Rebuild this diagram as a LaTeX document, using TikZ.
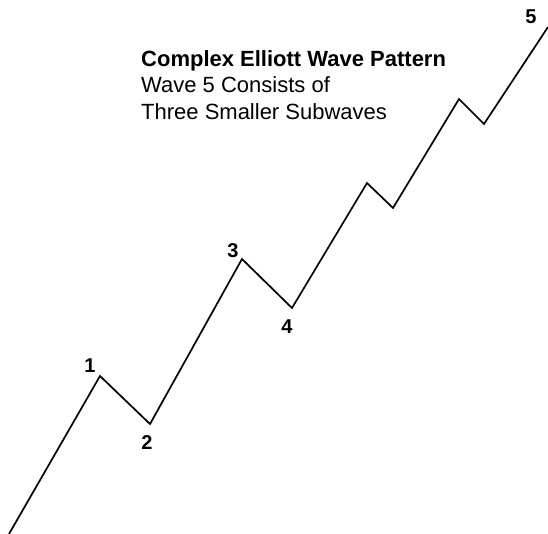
\documentclass[tikz,border=0pt]{standalone}
\usepackage{fontspec}
\setmainfont{Liberation Sans}
\begin{document}
\begin{tikzpicture}[x=1pt,y=-1pt,
  wave/.style={line width=1.7pt,line join=miter,black},
  lbl/.style={font=\fontsize{20}{22}\selectfont\bfseries,inner sep=0pt},
  txt/.style={font=\fontsize{22}{26.5}\selectfont,inner sep=0pt,align=left,anchor=base west}]
\useasboundingbox (0,0) rectangle (548,534);
\coordinate (s) at (9,534);
\coordinate (w1) at (100,376);
\coordinate (w2) at (150,424);
\coordinate (w3) at (242,259);
\coordinate (w4) at (292,308);
\coordinate (a) at (367,183);
\coordinate (b) at (393,208);
\coordinate (c) at (459,99);
\coordinate (d) at (484,124);
\coordinate (w5) at (548,27);
\draw[wave] (s) -- (w1) -- (w2) -- (w3) -- (w4) -- (a) -- (b) -- (c) -- (d) -- (w5);
\node[lbl] (l1) at (90,366) {1};
\node[lbl] (l2) at (147,443) {2};
\node[lbl] (l3) at (233,251) {3};
\node[lbl] (l4) at (287,327) {4};
\node[lbl] (l5) at (531,17) {5};
\node[txt] (t1) at (141,67) {\bfseries Complex Elliott Wave Pattern};
\node[txt] (t2) at (141,93) {Wave 5 Consists of};
\node[txt] (t3) at (141,120) {Three Smaller Subwaves};
\end{tikzpicture}
\end{document}
